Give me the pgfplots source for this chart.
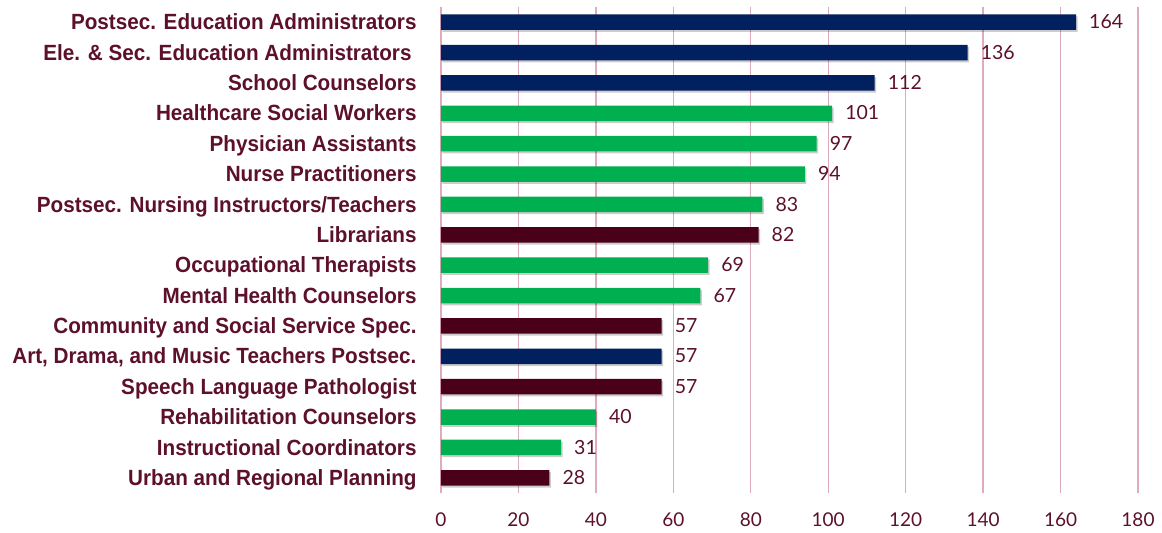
\documentclass[border=0pt]{standalone}
\usepackage{pgfplots}
\pgfplotsset{compat=1.18}
\usepackage{fontspec}
\setmainfont{Liberation Sans}
\newfontfamily\labfont[FakeStretch=0.94]{Liberation Sans}
\newfontfamily\numfont{Lato}
\usetikzlibrary{shadows}
\definecolor{navy}{HTML}{002060}
\definecolor{grn}{HTML}{00B050}
\definecolor{maroon}{HTML}{4A0019}
\definecolor{labelc}{RGB}{92,16,44}
\definecolor{gridpink}{RGB}{222,172,188}
\begin{document}
\begin{tikzpicture}
\begin{axis}[
  scale only axis, width=697bp, height=486bp,
  xbar, bar width=15.5bp,
  xmin=0, xmax=180, ymin=-0.5, ymax=15.5, y dir=reverse,
  xtick={0,20,...,180}, xmajorgrids, grid style={gridpink, line width=1.3bp},
  ytick={0,...,15},
  yticklabels={Postsec. Education Administrators, {Ele. \& Sec. Education Administrators\hspace*{5bp}}, School Counselors, Healthcare Social Workers, Physician Assistants, Nurse Practitioners, Postsec. Nursing Instructors/Teachers, Librarians, Occupational Therapists, Mental Health Counselors, Community and Social Service Spec., {Art, Drama, and Music Teachers Postsec.}, Speech Language Pathologist, Rehabilitation Counselors, Instructional Coordinators, Urban and Regional Planning},
  yticklabel style={font=\labfont\fontsize{22bp}{24bp}\selectfont\bfseries, text=labelc, inner sep=0pt, anchor=mid east, xshift=-20bp, yshift=-5bp},
  xticklabel style={font=\numfont\fontsize{19bp}{20bp}\selectfont, text=labelc, inner sep=0pt, anchor=north, yshift=-20bp},
  /pgf/number format/assume math mode=true,
  axis line style={draw=none}, major tick style={draw=none},
  nodes near coords,
  nodes near coords style={font=\numfont\fontsize{19.5bp}{20bp}\selectfont, text=labelc, anchor=mid west, inner sep=0pt, xshift=13bp, yshift=-4bp},
  clip=false,
]
\addplot[fill=navy, draw=none, bar shift=0pt, drop shadow={shadow xshift=1.5bp, shadow yshift=-2bp, opacity=0.2, fill=black}] coordinates {(164,0) (136,1) (112,2) (57,11)};
\addplot[fill=grn, draw=none, bar shift=0pt, drop shadow={shadow xshift=1.5bp, shadow yshift=-2bp, opacity=0.2, fill=black}] coordinates {(101,3) (97,4) (94,5) (83,6) (69,8) (67,9) (40,13) (31,14)};
\addplot[fill=maroon, draw=none, bar shift=0pt, drop shadow={shadow xshift=1.5bp, shadow yshift=-2bp, opacity=0.2, fill=black}] coordinates {(82,7) (57,10) (57,12) (28,15)};
\end{axis}
\path (current axis.south west) ++(-441bp,-40bp);
\path (current axis.south west) ++(721bp,493bp);
\end{tikzpicture}
\end{document}
